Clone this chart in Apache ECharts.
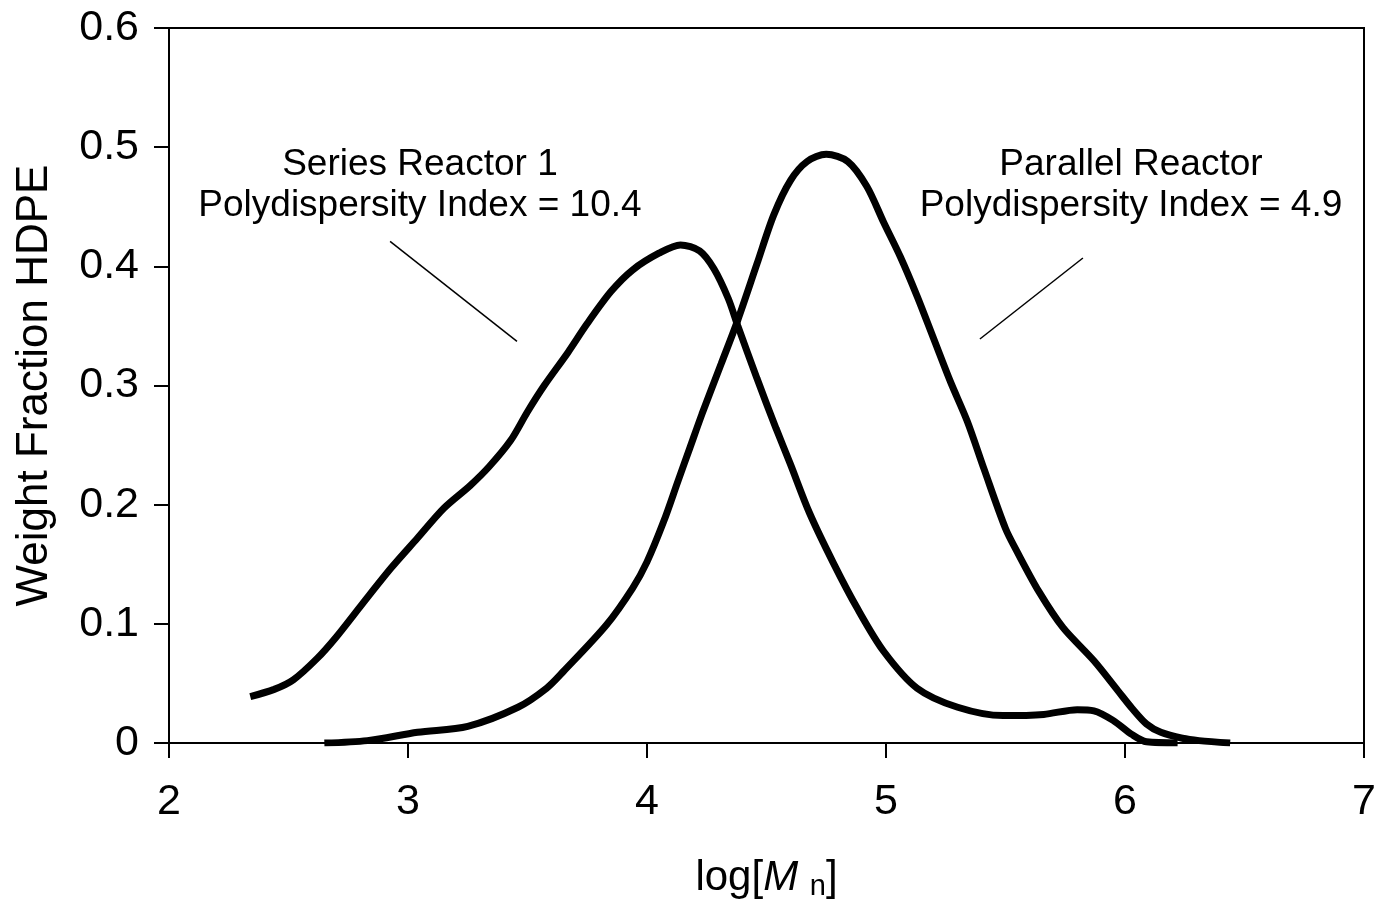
<!DOCTYPE html>
<html><head><meta charset="utf-8">
<script src="https://cdn.jsdelivr.net/npm/echarts@6/dist/echarts.min.js"></script>
<style>html,body{margin:0;padding:0;background:#fff}#c{width:1379px;height:906px}</style>
</head><body><div id="c"></div>
<script>
// log[Mn] values and weight fractions
const seriesReactorX = [2.34,2.44,2.52,2.62,2.70,2.81,2.93,3.04,3.15,3.26,3.34,3.43,3.50,3.57,3.67,3.75,3.85,3.94,4.05,4.14,4.22,4.28,4.34,4.38,4.46,4.54,4.60,4.68,4.78,4.88,4.99,5.13,5.30,5.49,5.66,5.80,5.87,5.95,6.03,6.09,6.22];
const seriesReactorY = [0.039,0.045,0.053,0.071,0.089,0.117,0.147,0.172,0.197,0.216,0.232,0.254,0.278,0.300,0.328,0.352,0.379,0.397,0.411,0.418,0.413,0.398,0.373,0.350,0.306,0.264,0.234,0.193,0.151,0.113,0.077,0.046,0.030,0.023,0.024,0.028,0.027,0.019,0.007,0.001,0.000];
const parallelX = [2.65,2.83,3.04,3.25,3.46,3.58,3.65,3.83,3.94,4.00,4.07,4.13,4.18,4.23,4.31,4.38,4.46,4.53,4.60,4.67,4.75,4.84,4.92,4.99,5.06,5.13,5.20,5.27,5.34,5.41,5.50,5.55,5.64,5.74,5.87,5.97,6.03,6.09,6.15,6.24,6.31,6.44];
const parallelY = [0.000,0.002,0.009,0.014,0.030,0.046,0.060,0.099,0.130,0.152,0.186,0.220,0.248,0.276,0.318,0.355,0.402,0.443,0.472,0.488,0.494,0.488,0.467,0.437,0.408,0.375,0.339,0.303,0.270,0.230,0.180,0.160,0.127,0.097,0.069,0.044,0.029,0.016,0.009,0.004,0.002,0.000];

// annotation texts, anchors and leader lines (data coordinates)
const annotationLabels = ["Series Reactor 1\nPolydispersity Index = 10.4", "Parallel Reactor\nPolydispersity Index = 4.9"];
const annotationX = [3.05, 6.025];
const annotationY = [0.468, 0.468];
const leaderLeftX = [2.925, 3.456];
const leaderLeftY = [0.421, 0.337];
const leaderRightX = [5.824, 5.393];
const leaderRightY = [0.407, 0.339];

const xMin = 2, xMax = 7, xStep = 1;
const yMin = 0, yMax = 0.6, yStep = 0.1;

const zip = (xs, ys) => xs.map((x, i) => [x, ys[i]]);
const FONT = 'Liberation Sans, Arial, sans-serif';

const chart = echarts.init(document.getElementById('c'), null, {renderer: 'canvas'});
const curveStyle = {color: '#000', width: 7};
chart.setOption({
  animation: false,
  backgroundColor: '#fff',
  grid: {left: 169, right: 15, top: 28, bottom: 161, show: true, borderColor: '#000', borderWidth: 2, backgroundColor: 'transparent'},
  xAxis: {
    type: 'value', min: xMin, max: xMax, interval: xStep,
    axisLine: {lineStyle: {color: '#000', width: 2}},
    axisTick: {inside: false, length: 15, lineStyle: {color: '#000', width: 2}},
    axisLabel: {fontFamily: FONT, fontSize: 43, color: '#000', margin: 38},
    splitLine: {show: false},
    name: '{a|log[}{i|M}{a| }{s|n}{a|]}',
    nameLocation: 'middle', nameGap: 112,
    nameTextStyle: {
      fontFamily: FONT, color: '#000',
      rich: {
        a: {fontFamily: FONT, fontSize: 42, color: '#000', lineHeight: 46},
        i: {fontFamily: FONT, fontSize: 42, fontStyle: 'italic', color: '#000', lineHeight: 46},
        s: {fontFamily: FONT, fontSize: 29, color: '#000', lineHeight: 20, verticalAlign: 'bottom'}
      }
    }
  },
  yAxis: {
    type: 'value', min: yMin, max: yMax, interval: yStep,
    axisLine: {lineStyle: {color: '#000', width: 2}},
    axisTick: {inside: false, length: 15, lineStyle: {color: '#000', width: 2}},
    axisLabel: {fontFamily: FONT, fontSize: 43, color: '#000', margin: 30},
    splitLine: {show: false},
    name: 'Weight Fraction HDPE', nameLocation: 'middle', nameGap: 112, nameRotate: 90,
    nameTextStyle: {fontFamily: FONT, fontSize: 44, color: '#000'}
  },
  series: [
    {name: 'Series Reactor 1', type: 'line', data: zip(seriesReactorX, seriesReactorY), smooth: 0.3, showSymbol: false, symbol: 'none', lineStyle: curveStyle, z: 3},
    {name: 'Parallel Reactor', type: 'line', data: zip(parallelX, parallelY), smooth: 0.3, showSymbol: false, symbol: 'none', lineStyle: curveStyle, z: 3},
    {type: 'line', data: zip(leaderLeftX, leaderLeftY), symbol: 'none', lineStyle: {color: '#000', width: 1.5}},
    {type: 'line', data: zip(leaderRightX, leaderRightY), symbol: 'none', lineStyle: {color: '#000', width: 1.5}},
    {type: 'scatter', symbolSize: 0, silent: true, itemStyle: {opacity: 1},
     data: annotationLabels.map((t, i) => ({value: [annotationX[i], annotationY[i]], label: {formatter: t}})),
     label: {show: true, position: 'inside', fontFamily: FONT, fontSize: 37, lineHeight: 41, color: '#000', opacity: 1, align: 'center', verticalAlign: 'middle'}}
  ]
});
</script></body></html>
